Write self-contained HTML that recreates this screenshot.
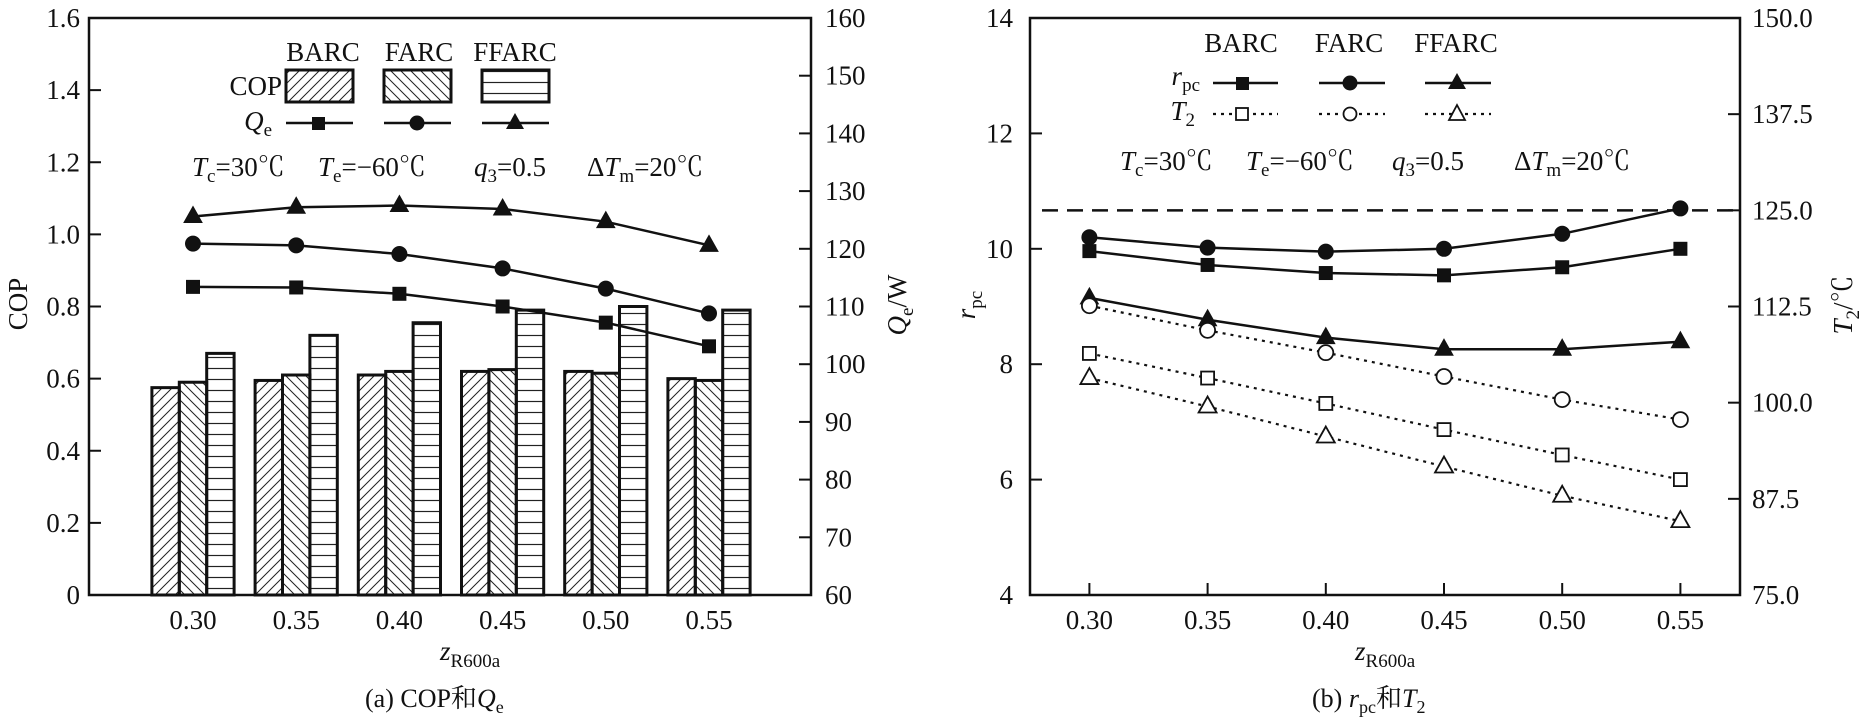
<!DOCTYPE html>
<html><head><meta charset="utf-8"><style>
html,body{margin:0;padding:0;background:#fff}
svg{display:block}
text{font-family:"Liberation Serif","Noto Serif CJK SC",serif;fill:#111}
</style></head><body>
<svg id="chart" width="1870" height="724" viewBox="0 0 1870 724" xmlns="http://www.w3.org/2000/svg">
<defs>
<pattern id="hatchF" patternUnits="userSpaceOnUse" width="10" height="10"><path d="M-2,12 L12,-2 M-2,2 L2,-2 M8,12 L12,8" stroke="#222" stroke-width="1"/></pattern>
<pattern id="hatchB" patternUnits="userSpaceOnUse" width="10" height="10"><path d="M-2,-2 L12,12 M-2,8 L2,12 M8,-2 L12,2" stroke="#222" stroke-width="1"/></pattern>
<pattern id="hatchH" patternUnits="userSpaceOnUse" width="10" height="11"><path d="M0,5.5 L10,5.5" stroke="#222" stroke-width="1.2"/></pattern>
</defs>
<g id="left"></g>
<g id="right"></g>
</svg>
<script>
const cats=[0.30,0.35,0.40,0.45,0.50,0.55];
const catLabels=["0.30","0.35","0.40","0.45","0.50","0.55"];
const copBARC=[0.575,0.595,0.61,0.62,0.62,0.60];
const copFARC=[0.59,0.61,0.62,0.625,0.615,0.595];
const copFFARC=[0.67,0.72,0.755,0.79,0.80,0.79];
const qeBARC=[113.4,113.3,112.2,110.0,107.2,103.1];
const qeFARC=[120.9,120.6,119.1,116.6,113.1,108.8];
const qeFFARC=[125.6,127.2,127.5,126.9,124.7,120.6];
const copTicks=["0","0.2","0.4","0.6","0.8","1.0","1.2","1.4","1.6"];
const qeTicks=["60","70","80","90","100","110","120","130","140","150","160"];
const rpcBARC=[9.96,9.72,9.58,9.54,9.68,10.0];
const rpcFARC=[10.2,10.02,9.95,10.0,10.26,10.7];
const rpcFFARC=[9.15,8.77,8.46,8.26,8.26,8.39];
const t2BARC=[106.4,103.2,99.9,96.5,93.2,90.0];
const t2FARC=[112.6,109.4,106.5,103.4,100.4,97.8];
const t2FFARC=[103.2,99.5,95.6,91.7,87.9,84.6];
const rpcTicks=["4","6","8","10","12","14"];
const t2Ticks=["75.0","87.5","100.0","112.5","125.0","137.5","150.0"];
const t2Limit=125.0;

const NS="http://www.w3.org/2000/svg";
function mk(p,tag,a,txt){const e=document.createElementNS(NS,tag);for(const k in a)e.setAttribute(k,a[k]);if(txt!==undefined)e.textContent=txt;p.appendChild(e);return e;}
function marker(p,type,x,y,open){
  const f=open?"#fff":"#111";let e;
  if(type==="sq")e=mk(p,"rect",{x:x-6.5,y:y-6.5,width:13,height:13,fill:f,stroke:"#111","stroke-width":open?1.8:1});
  else if(type==="ci")e=mk(p,"circle",{cx:x,cy:y,r:7.5,fill:f,stroke:"#111","stroke-width":open?1.8:1});
  else e=mk(p,"path",{d:`M${x},${y-10}L${x+9},${y+6}L${x-9},${y+6}Z`,fill:f,stroke:"#111","stroke-width":open?1.8:1});
  return e;
}

/* LEFT */
const L=document.getElementById('left');
const lx0=89,lx1=811,ly0=18,ly1=595;
const xL=v=>193+(v-0.30)/0.05*103.2;
const yCop=v=>ly1-v/1.6*(ly1-ly0);
const yQe=v=>ly1-(v-60)/100*(ly1-ly0);
const bw=27.4;
[[copBARC,"url(#hatchF)","barc"],[copFARC,"url(#hatchB)","farc"],[copFFARC,"url(#hatchH)","ffarc"]].forEach((s,si)=>{
  cats.forEach((c,i)=>{
    const x=xL(c)-bw*1.5+si*bw;
    const r=mk(L,"rect",{x:x,y:yCop(s[0][i]),width:bw,height:ly1-yCop(s[0][i]),fill:s[1],stroke:"#111","stroke-width":3});
    
    
  });
});
[[qeBARC,"sq","barc"],[qeFARC,"ci","farc"],[qeFFARC,"tr","ffarc"]].forEach(s=>{
  const pl=mk(L,"polyline",{points:cats.map((c,i)=>xL(c)+","+yQe(s[0][i])).join(" "),fill:"none",stroke:"#111","stroke-width":2.5});
  
  
  cats.forEach((c,i)=>{const m=marker(L,s[1],xL(c),yQe(s[0][i]),false);
    
    });
});
mk(L,"rect",{x:lx0,y:ly0,width:lx1-lx0,height:ly1-ly0,fill:"none",stroke:"#111","stroke-width":2.5,});
copTicks.forEach((t,i)=>{const y=yCop(i*0.2);
  mk(L,"line",{x1:lx0,y1:y,x2:lx0+12,y2:y,stroke:"#111","stroke-width":2});
  const e=mk(L,"text",{x:80,y:y+9,"text-anchor":"end","font-size":27},t);
  });
qeTicks.forEach((t,i)=>{const y=yQe(60+i*10);
  mk(L,"line",{x1:lx1-12,y1:y,x2:lx1,y2:y,stroke:"#111","stroke-width":2});
  const e=mk(L,"text",{x:825,y:y+9,"font-size":27},t);
  });
cats.forEach((c,i)=>{const e=mk(L,"text",{x:xL(c),y:629,"text-anchor":"middle","font-size":27},catLabels[i]);
  });
L.insertAdjacentHTML('beforeend',`
<text transform="translate(27,304) rotate(-90)" text-anchor="middle" font-size="27">COP</text>
<text transform="translate(906,305) rotate(-90)" text-anchor="middle" font-size="27"><tspan font-style="italic">Q</tspan><tspan font-size="19" dy="7">e</tspan><tspan dy="-7">/W</tspan></text>
<text x="440" y="660" font-size="27"><tspan font-style="italic">z</tspan><tspan font-size="19" dy="7">R600a</tspan></text>
<text x="365" y="707" font-size="26" font-family="Liberation Serif,Noto Serif CJK SC,serif">(a) COP和<tspan font-style="italic">Q</tspan><tspan font-size="18" dy="6">e</tspan></text>
<g font-size="27">
<text x="323" y="61" text-anchor="middle">BARC</text><text x="419" y="61" text-anchor="middle">FARC</text><text x="515" y="61" text-anchor="middle">FFARC</text>
<text x="282" y="95" text-anchor="end">COP</text>
<rect x="286" y="70" width="67" height="32" fill="url(#hatchF)" stroke="#111" stroke-width="3"/>
<rect x="384" y="70" width="67" height="32" fill="url(#hatchB)" stroke="#111" stroke-width="3"/>
<rect x="482" y="70" width="67" height="32" fill="url(#hatchH)" stroke="#111" stroke-width="3"/>
<text x="272" y="130" text-anchor="end"><tspan font-style="italic">Q</tspan><tspan font-size="19" dy="6">e</tspan></text>
<line x1="286" y1="123" x2="353" y2="123" stroke="#111" stroke-width="2.5"/><rect x="312" y="117" width="13" height="13" fill="#111"/>
<line x1="384" y1="123" x2="451" y2="123" stroke="#111" stroke-width="2.5"/><circle cx="417" cy="123" r="7.5" fill="#111"/>
<line x1="482" y1="123" x2="549" y2="123" stroke="#111" stroke-width="2.5"/><path d="M515,113L524,129L506,129Z" fill="#111"/>
<text y="176"><tspan x="192" font-style="italic">T</tspan><tspan font-size="19" dy="6">c</tspan><tspan dy="-6">=30℃</tspan>
<tspan x="318" font-style="italic">T</tspan><tspan font-size="19" dy="6">e</tspan><tspan dy="-6">=−60℃</tspan>
<tspan x="474" font-style="italic">q</tspan><tspan font-size="19" dy="6">3</tspan><tspan dy="-6">=0.5</tspan>
<tspan x="587">Δ</tspan><tspan font-style="italic">T</tspan><tspan font-size="19" dy="6">m</tspan><tspan dy="-6">=20℃</tspan></text>
</g>`);

/* RIGHT */
const R=document.getElementById('right');
const rx0=1030,rx1=1740,ry0=18,ry1=595;
const xR=v=>1089.4+(v-0.30)/0.05*118.2;
const yR=v=>ry1-(v-4)/10*(ry1-ry0);
const yT=v=>ry1-(v-75)/75*(ry1-ry0);
const dl=mk(R,"line",{x1:1042,y1:yT(t2Limit),x2:rx1,y2:yT(t2Limit),stroke:"#111","stroke-width":2.5,"stroke-dasharray":"16,9"});

[[rpcBARC,"sq","barc"],[rpcFARC,"ci","farc"],[rpcFFARC,"tr","ffarc"]].forEach(s=>{
  const pl=mk(R,"polyline",{points:cats.map((c,i)=>xR(c)+","+yR(s[0][i])).join(" "),fill:"none",stroke:"#111","stroke-width":2.5});
  
  cats.forEach((c,i)=>{const m=marker(R,s[1],xR(c),yR(s[0][i]),false);
    });
});
[[t2BARC,"sq","barc"],[t2FARC,"ci","farc"],[t2FFARC,"tr","ffarc"]].forEach(s=>{
  const pl=mk(R,"polyline",{points:cats.map((c,i)=>xR(c)+","+yT(s[0][i])).join(" "),fill:"none",stroke:"#111","stroke-width":2.2,"stroke-dasharray":"3,5"});
  
  cats.forEach((c,i)=>{const m=marker(R,s[1],xR(c),yT(s[0][i]),true);
    });
});
mk(R,"rect",{x:rx0,y:ry0,width:rx1-rx0,height:ry1-ry0,fill:"none",stroke:"#111","stroke-width":2.5,});
rpcTicks.forEach((t,i)=>{const y=yR(4+i*2);
  mk(R,"line",{x1:rx0,y1:y,x2:rx0+12,y2:y,stroke:"#111","stroke-width":2});
  const e=mk(R,"text",{x:1013,y:y+9,"text-anchor":"end","font-size":27},t);
  });
t2Ticks.forEach((t,i)=>{const y=yT(75+i*12.5);
  mk(R,"line",{x1:rx1-12,y1:y,x2:rx1,y2:y,stroke:"#111","stroke-width":2});
  const e=mk(R,"text",{x:1752,y:y+9,"font-size":27},t);
  });
cats.forEach((c,i)=>{
  mk(R,"line",{x1:xR(c),y1:ry1,x2:xR(c),y2:ry1-12,stroke:"#111","stroke-width":2});
  const e=mk(R,"text",{x:xR(c),y:629,"text-anchor":"middle","font-size":27},catLabels[i]);
  });
R.insertAdjacentHTML('beforeend',`
<text transform="translate(975,305) rotate(-90)" text-anchor="middle" font-size="27"><tspan font-style="italic">r</tspan><tspan font-size="19" dy="7">pc</tspan></text>
<text transform="translate(1852,305) rotate(-90)" text-anchor="middle" font-size="27"><tspan font-style="italic">T</tspan><tspan font-size="19" dy="7">2</tspan><tspan dy="-7">/℃</tspan></text>
<text x="1355" y="660" font-size="27"><tspan font-style="italic">z</tspan><tspan font-size="19" dy="7">R600a</tspan></text>
<text x="1312" y="707" font-size="26"><tspan>(b) </tspan><tspan font-style="italic">r</tspan><tspan font-size="18" dy="6">pc</tspan><tspan dy="-6">和</tspan><tspan font-style="italic">T</tspan><tspan font-size="18" dy="6">2</tspan></text>
<g font-size="27">
<text x="1241" y="52" text-anchor="middle">BARC</text><text x="1349" y="52" text-anchor="middle">FARC</text><text x="1456" y="52" text-anchor="middle">FFARC</text>
<text x="1200" y="85" text-anchor="end"><tspan font-style="italic">r</tspan><tspan font-size="19" dy="6">pc</tspan></text>
<line x1="1213" y1="83" x2="1278" y2="83" stroke="#111" stroke-width="2.5"/><rect x="1236" y="77" width="13" height="13" fill="#111"/>
<line x1="1319" y1="83" x2="1385" y2="83" stroke="#111" stroke-width="2.5"/><circle cx="1350" cy="83" r="7.5" fill="#111"/>
<line x1="1425" y1="83" x2="1491" y2="83" stroke="#111" stroke-width="2.5"/><path d="M1457,73L1466,89L1448,89Z" fill="#111"/>
<text x="1195" y="120" text-anchor="end"><tspan font-style="italic">T</tspan><tspan font-size="19" dy="6">2</tspan></text>
<line x1="1213" y1="114" x2="1278" y2="114" stroke="#111" stroke-width="2.2" stroke-dasharray="3,5"/><rect x="1236" y="108" width="12" height="12" fill="#fff" stroke="#111" stroke-width="1.8"/>
<line x1="1319" y1="114" x2="1385" y2="114" stroke="#111" stroke-width="2.2" stroke-dasharray="3,5"/><circle cx="1350" cy="114" r="6.5" fill="#fff" stroke="#111" stroke-width="1.8"/>
<line x1="1425" y1="114" x2="1491" y2="114" stroke="#111" stroke-width="2.2" stroke-dasharray="3,5"/><path d="M1457,105L1465,120L1449,120Z" fill="#fff" stroke="#111" stroke-width="1.8"/>
<text y="170"><tspan x="1120" font-style="italic">T</tspan><tspan font-size="19" dy="6">c</tspan><tspan dy="-6">=30℃</tspan>
<tspan x="1246" font-style="italic">T</tspan><tspan font-size="19" dy="6">e</tspan><tspan dy="-6">=−60℃</tspan>
<tspan x="1392" font-style="italic">q</tspan><tspan font-size="19" dy="6">3</tspan><tspan dy="-6">=0.5</tspan>
<tspan x="1514">Δ</tspan><tspan font-style="italic">T</tspan><tspan font-size="19" dy="6">m</tspan><tspan dy="-6">=20℃</tspan></text>
</g>`);
</script>
</body></html>
